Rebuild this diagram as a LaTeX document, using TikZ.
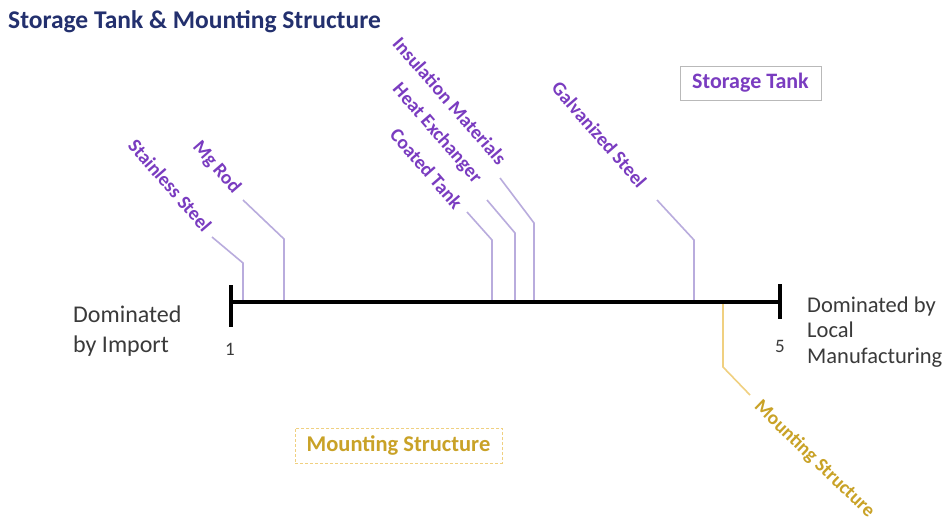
\documentclass[tikz,border=0pt]{standalone}
\usepackage{fontspec}
\setmainfont{Carlito}
\definecolor{navy}{HTML}{23306E}
\definecolor{purp}{HTML}{7A3CC0}
\definecolor{leadp}{HTML}{B9ACDD}
\definecolor{gold}{HTML}{C9A227}
\definecolor{leadg}{HTML}{F0D080}
\definecolor{txt}{HTML}{3A3A3A}
\begin{document}
\begin{tikzpicture}[x=1pt,y=-1pt,
  lead/.style={draw=leadp,line width=1.6pt},
  leadgold/.style={draw=leadg,line width=1.6pt},
  plab/.style={font=\bfseries\fontsize{19.5}{20}\selectfont,text=purp,rotate=-49,anchor=east,inner sep=0pt},
  glab/.style={font=\bfseries\fontsize{19.5}{20}\selectfont,text=gold,rotate=-44,anchor=west,inner sep=0pt},
  lefttxt/.style={font=\fontsize{24}{26}\selectfont,text=txt,anchor=base west,inner sep=0pt},
  righttxt/.style={font=\fontsize{22.5}{24}\selectfont,text=txt,anchor=base west,inner sep=0pt},
  axisline/.style={line width=4.5pt,draw=black},
  tick/.style={line width=4pt,draw=black}]
\useasboundingbox[fill=white] (0,0) rectangle (948,522);
% title
\node[font=\bfseries\fontsize{25.5}{27}\selectfont,text=navy,anchor=base west,inner sep=0pt] (title) at (8,28) {Storage Tank \& Mounting Structure};
% axis
\coordinate (a1) at (231,302);
\coordinate (a5) at (780,302);
\draw[tick] (231,285) -- (231,327);
\draw[tick] (780,284) -- (780,319);
\node[font=\fontsize{19}{20}\selectfont,text=txt] (n1) at (230,349) {1};
\node[font=\fontsize{19}{20}\selectfont,text=txt] (n5) at (780,346) {5};
\node[lefttxt] (l1) at (73,322) {Dominated};
\node[lefttxt] (l2) at (73,352) {by Import};
\node[righttxt] (r1) at (807,312) {Dominated by};
\node[righttxt] (r2) at (807,337.5) {Local};
\node[righttxt] (r3) at (807,363) {Manufacturing};
% leaders
\coordinate (ssA) at (243,302); \coordinate (ssB) at (243,263); \coordinate (ssC) at (212,237);
\coordinate (mgA) at (284,302); \coordinate (mgB) at (284,239); \coordinate (mgC) at (243,200);
\coordinate (ctA) at (492,302); \coordinate (ctB) at (492,240); \coordinate (ctC) at (467,212);
\coordinate (heA) at (515,302); \coordinate (heB) at (515,233); \coordinate (heC) at (487,200);
\coordinate (imA) at (534,302); \coordinate (imB) at (534,223); \coordinate (imC) at (500,178);
\coordinate (gsA) at (694,302); \coordinate (gsB) at (694,240); \coordinate (gsC) at (657,200);
\coordinate (msA) at (723,304); \coordinate (msB) at (723,367); \coordinate (msC) at (750,395);
\draw[lead] (ssA) -- (ssB) -- (ssC);
\draw[lead] (mgA) -- (mgB) -- (mgC);
\draw[lead] (ctA) -- (ctB) -- (ctC);
\draw[lead] (heA) -- (heB) -- (heC);
\draw[lead] (imA) -- (imB) -- (imC);
\draw[lead] (gsA) -- (gsB) -- (gsC);
\draw[leadgold] (msA) -- (msB) -- (msC);
\draw[axisline] (a1) -- (a5);
\node[plab] (ss) at (208,229) {Stainless Steel};
\node[plab] (mg) at (237,191) {Mg Rod};
\node[plab] (ct) at (459,206) {Coated Tank};
\node[plab] (he) at (478,181) {Heat Exchanger};
\node[plab] (im) at (503,162) {Insulation Materials};
\node[plab] (gs) at (643,185) {Galvanized Steel};
\node[glab] (ms) at (757,404) {Mounting Structure};
% legend boxes
\node[draw=gray!55,line width=0.8pt,minimum width=141pt,minimum height=34pt,font=\bfseries\fontsize{22}{24}\selectfont,text=purp] (stbox) at (750.5,83) {Storage Tank};
\node[draw=leadg,densely dashed,line width=0.8pt,minimum width=207pt,minimum height=35pt,font=\bfseries\fontsize{22.5}{24}\selectfont,text=gold] (msbox) at (398.5,445.5) {Mounting Structure};
\end{tikzpicture}
\end{document}
